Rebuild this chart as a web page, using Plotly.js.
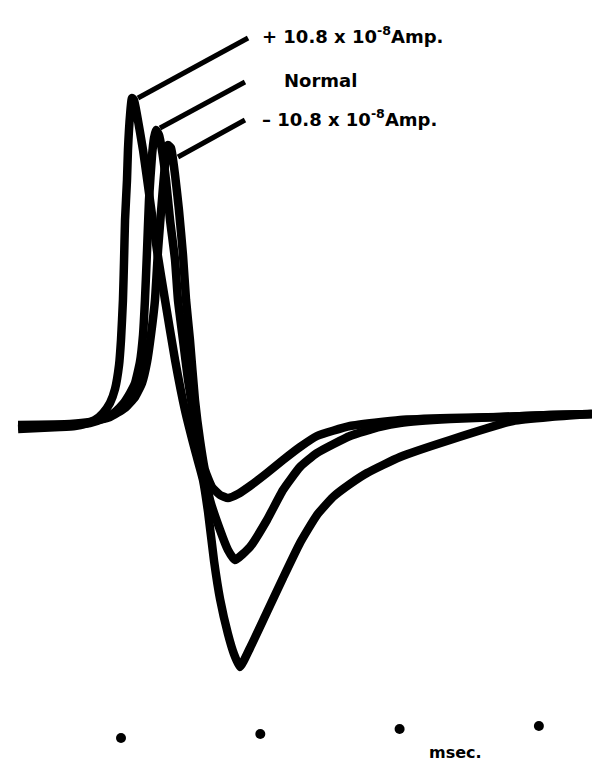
<!DOCTYPE html>
<html>
<head>
<meta charset="utf-8">
<script src="https://cdn.plot.ly/plotly-3.0.1.min.js"></script>
<style>
  html, body { margin: 0; padding: 0; background: #fff; }
  #chart { width: 592px; height: 761px; }
</style>
</head>
<body>
<div id="chart"></div>
<script>
// ---- Data (time in ms from first time mark; potential in arbitrary units) ----
const plusTime = [-0.739,-0.438,-0.330,-0.258,-0.187,-0.129,-0.079,-0.043,-0.014,0.000,0.014,0.022,0.029,0.043,0.050,0.065,0.079,0.093,0.115,0.158,0.208,0.258,0.316,0.388,0.459,0.531,0.589,0.625,0.668,0.711,0.768,0.811,0.854,0.926,1.048,1.163,1.285,1.407,1.522,1.644,1.766,2.003,2.362,2.814,3.080,3.381];
const plusValue = [-0.2,0.0,0.1,0.3,0.7,1.4,2.4,3.8,6.2,8.7,12.7,16.7,20.7,24.7,27.7,31.2,32.9,32.7,31.2,27.7,22.7,17.7,12.7,6.7,1.7,-2.3,-5.3,-8.5,-13.4,-17.2,-20.7,-22.7,-24.0,-22.1,-18.5,-15.1,-11.6,-8.8,-7.0,-5.7,-4.6,-3.0,-1.3,0.6,1.0,1.3];

const normalTime = [-0.739,-0.366,-0.223,-0.115,-0.043,0.014,0.065,0.101,0.136,0.158,0.172,0.187,0.201,0.223,0.237,0.251,0.273,0.294,0.323,0.352,0.388,0.409,0.445,0.481,0.538,0.589,0.639,0.711,0.768,0.818,0.926,1.048,1.163,1.285,1.407,1.644,1.859,2.003,2.362,2.721,3.080,3.381];
const normalValue = [0.1,0.2,0.4,0.9,1.5,2.3,3.4,4.4,6.5,9.2,12.7,17.7,22.7,27.2,28.9,29.7,29.2,27.7,24.7,20.7,16.7,12.7,8.7,4.7,-0.3,-3.8,-7.3,-10.3,-12.3,-13.3,-12.0,-9.3,-6.3,-4.0,-2.6,-0.9,0.0,0.4,0.8,1.0,1.2,1.3];

const minusTime = [-0.739,-0.366,-0.223,-0.079,0.029,0.101,0.151,0.187,0.215,0.244,0.266,0.294,0.316,0.337,0.359,0.388,0.416,0.445,0.467,0.495,0.531,0.567,0.603,0.653,0.711,0.768,0.840,0.926,1.048,1.163,1.285,1.407,1.644,2.003,2.362,2.721,3.080,3.381];
const minusValue = [0.2,0.3,0.5,1.0,1.9,3.0,4.4,6.5,9.2,12.7,17.7,22.7,26.2,28.2,27.9,25.2,21.7,17.2,12.7,8.7,2.7,-1.3,-4.3,-6.0,-6.8,-7.1,-6.7,-5.9,-4.6,-3.3,-2.0,-0.9,0.1,0.7,0.9,1.0,1.2,1.3];

// time marks (1 ms apart)
const markTime = [0, 1, 2, 3];
const markValue = [-31.1, -30.7, -30.2, -29.9];

// label texts
const labelPlus = "+ 10.8 x 10<sup>-8</sup>Amp.";
const labelNormal = "Normal";
const labelMinus = "– 10.8 x 10<sup>-8</sup>Amp.";
const unitLabel = "msec.";

// ---- Layout config ----
const ink = "#000000";
const lineW = 8.5;
const font = { family: "DejaVu Sans", color: ink, size: 18, weight: "bold" };

function curve(x, y) {
  return { x: x, y: y, type: "scatter", mode: "lines", hoverinfo: "skip",
           line: { color: ink, width: lineW, shape: "spline", smoothing: 0.45 },
           showlegend: false };
}

const traces = [
  curve(plusTime, plusValue),
  curve(normalTime, normalValue),
  curve(minusTime, minusValue),
  { x: markTime, y: markValue, type: "scatter", mode: "markers", hoverinfo: "skip",
    marker: { color: ink, size: 10 }, showlegend: false }
];

const labels = [
  { text: labelPlus,   x: 0.998, y: 39.2, from: [0.122, 32.9], to: [0.912, 38.9] },
  { text: labelNormal, x: 1.156, y: 34.7, from: [0.280, 29.9], to: [0.890, 34.5] },
  { text: labelMinus,  x: 0.998, y: 30.9, from: [0.409, 27.0], to: [0.890, 30.7] }
];

const annotations = labels.map(l => ({
  text: l.text, x: l.x, y: l.y, xref: "x", yref: "y",
  xanchor: "left", yanchor: "middle", showarrow: false, font: font
}));
annotations.push({ text: unitLabel, x: 2.398, y: -32.5, xref: "x", yref: "y",
  xanchor: "center", yanchor: "middle", showarrow: false,
  font: { family: "DejaVu Sans", color: ink, size: 16, weight: "bold" } });

const shapes = labels.map(l => ({
  type: "line", xref: "x", yref: "y",
  x0: l.from[0], y0: l.from[1], x1: l.to[0], y1: l.to[1],
  line: { color: ink, width: 5 }
}));

const layout = {
  width: 592, height: 761,
  margin: { l: 0, r: 0, t: 0, b: 0, pad: 0 },
  paper_bgcolor: "#ffffff", plot_bgcolor: "#ffffff",
  xaxis: { range: [-0.8686, 3.3812], visible: false, fixedrange: true },
  yaxis: { range: [-33.4, 42.7], visible: false, fixedrange: true },
  annotations: annotations,
  shapes: shapes,
  showlegend: false
};

Plotly.newPlot("chart", traces, layout, { displayModeBar: false });
</script>
</body>
</html>
